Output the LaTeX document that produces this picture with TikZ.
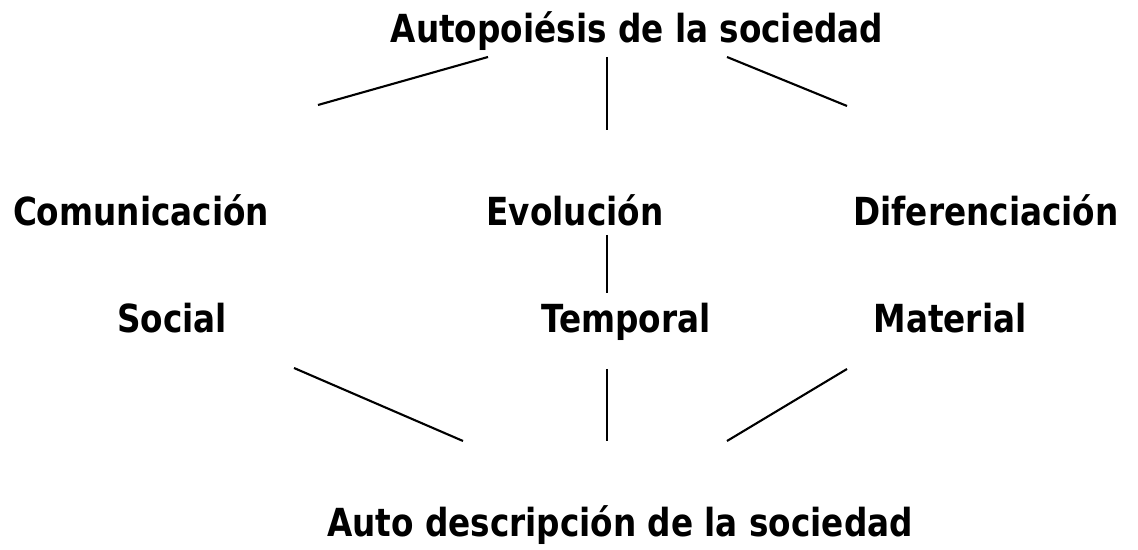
\documentclass[tikz,border=0pt]{standalone}
\usepackage{fontspec}
\setmainfont{DejaVu Sans Condensed}[BoldFont={DejaVu Sans Condensed Bold}, FakeStretch=0.94]
\usepackage{tikz}
\usetikzlibrary{positioning}
\tikzset{lbl/.style={anchor=base, inner sep=0pt, font=\fontsize{22}{26}\selectfont\bfseries},
	lnk/.style={line width=1.2pt, black}}

\begin{document}
\begin{tikzpicture}[x=0.02cm, y=0.02cm]
	\useasboundingbox (0,0) rectangle (1138,550);

	\node [lbl] (auto) at (637,507) {Autopoiésis de la sociedad};
	\node [lbl] (com) at (141,324) {Comunicación};
	\node [lbl] (evo) at (575,324) {Evolución};
	\node [lbl] (dif) at (986,324) {Diferenciación};
	\node [lbl] (soc) at (172,217) {Social};
	\node [lbl] (tem) at (626,217) {Temporal};
	\node [lbl] (mat) at (950,217) {Material};
	\node [lbl] (desc) at (620,13) {Auto descripción de la sociedad};

	% line ends
	\coordinate (a1) at (488,493);
	\coordinate (a2) at (318,445);
	\coordinate (b1) at (607,493);
	\coordinate (b2) at (607,420);
	\coordinate (c1) at (727,493);
	\coordinate (c2) at (847,444);
	\coordinate (d1) at (607,315);
	\coordinate (d2) at (607,257);
	\coordinate (e1) at (294,182);
	\coordinate (e2) at (463,109);
	\coordinate (f1) at (607,181);
	\coordinate (f2) at (607,109);
	\coordinate (g1) at (847,181);
	\coordinate (g2) at (727,109);

	\draw [lnk] (a1) -- (a2);
	\draw [lnk] (b1) -- (b2);
	\draw [lnk] (c1) -- (c2);
	\draw [lnk] (d1) -- (d2);
	\draw [lnk] (e1) -- (e2);
	\draw [lnk] (f1) -- (f2);
	\draw [lnk] (g1) -- (g2);

\end{tikzpicture}
\end{document}
